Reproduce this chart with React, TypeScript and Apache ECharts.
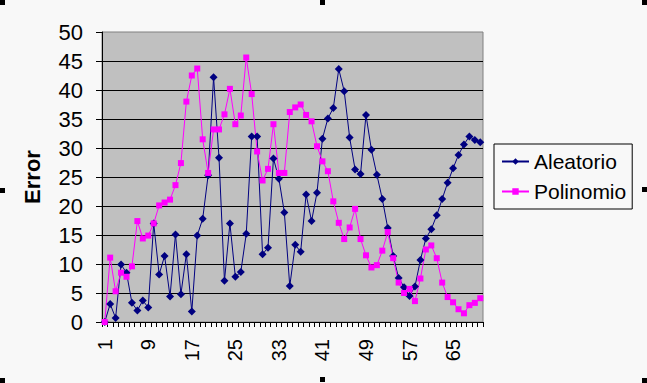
import React, { useEffect, useRef } from "react";
import * as echarts from "echarts";

const categories = [
  "1","2","3","4","5","6","7","8","9","10",
  "11","12","13","14","15","16","17","18","19","20",
  "21","22","23","24","25","26","27","28","29","30",
  "31","32","33","34","35","36","37","38","39","40",
  "41","42","43","44","45","46","47","48","49","50",
  "51","52","53","54","55","56","57","58","59","60",
  "61","62","63","64","65","66","67","68","69","70",
];

const aleatorio = [
  0, 3.1, 0.7, 9.9, 8.5, 3.3, 2.0, 3.7, 2.5, 17.0,
  8.2, 11.4, 4.4, 15.1, 4.8, 11.7, 1.8, 14.9, 17.8, 25.3,
  42.2, 28.3, 7.1, 17.0, 7.8, 8.6, 15.2, 32.0, 32.0, 11.7,
  12.8, 28.2, 24.7, 18.9, 6.2, 13.3, 12.1, 22.0, 17.4, 22.3,
  31.6, 35.1, 36.9, 43.6, 39.8, 31.8, 26.3, 25.5, 35.7, 29.7,
  25.4, 21.2, 16.2, 11.4, 7.6, 6.0, 4.5, 6.1, 10.7, 14.4,
  16.0, 18.4, 21.2, 24.0, 26.5, 28.8, 30.6, 32.0, 31.4, 31.0,
];

const polinomio = [
  0, 11.1, 5.3, 8.5, 7.8, 9.6, 17.4, 14.4, 14.9, 17.0,
  20.1, 20.6, 21.1, 23.6, 27.4, 38.0, 42.5, 43.7, 31.5, 25.7,
  33.2, 33.2, 35.8, 40.2, 34.1, 35.6, 45.6, 39.3, 29.4, 24.4,
  26.4, 34.1, 25.7, 25.7, 36.2, 37.0, 37.5, 35.7, 34.6, 30.3,
  27.7, 26.0, 20.8, 17.1, 14.3, 16.3, 19.5, 14.3, 11.5, 9.4,
  9.8, 12.3, 15.5, 11.0, 6.8, 5.0, 5.7, 3.6, 7.5, 12.5,
  13.2, 11.0, 6.8, 4.3, 3.4, 2.2, 1.5, 2.9, 3.3, 4.1,
];

const seriesNames = ["Aleatorio", "Polinomio"];
const yAxisTitle = "Error";

const FONT = "'Liberation Sans', Arial, sans-serif";

export default function App() {
  const ref = useRef<HTMLDivElement>(null);

  useEffect(() => {
    if (!ref.current) return;
    const chart = echarts.init(ref.current, null, { renderer: "svg" });
    const handles = [
      [0, 0], [320, 0], [642, 0],
      [0, 188], [642, 187],
      [0, 378], [320, 377], [642, 378],
    ];
    chart.setOption({
      animation: false,
      backgroundColor: "#F8F8F8",
      textStyle: { fontFamily: FONT },
      grid: {
        left: 102,
        right: 164,
        top: 32,
        bottom: 61,
        show: true,
        backgroundColor: "#C0C0C0",
        borderColor: "#808080",
        borderWidth: 1,
      },
      legend: {
        orient: "vertical",
        left: 494,
        top: 144,
        padding: [6, 6, 6, 7],
        itemGap: 7,
        itemWidth: 27,
        itemHeight: 8,
        borderColor: "#000",
        borderWidth: 1,
        backgroundColor: "#F8F8F8",
        textStyle: { fontSize: 21, color: "#000", fontFamily: FONT, lineHeight: 23 },
        data: seriesNames,
      },
      xAxis: {
        type: "category",
        data: categories,
        boundaryGap: true,
        axisLine: { show: true, lineStyle: { color: "#000", width: 1 } },
        axisTick: { show: true, interval: 0, length: 5, lineStyle: { color: "#000" } },
        axisLabel: {
          interval: 7,
          rotate: 90,
          margin: 17,
          fontSize: 20,
          color: "#000",
          fontFamily: FONT,
        },
        splitLine: { show: false },
      },
      yAxis: {
        type: "value",
        min: 0,
        max: 50,
        interval: 5,
        axisLine: { show: true, lineStyle: { color: "#000", width: 1 } },
        axisTick: { show: true, length: 6, lineStyle: { color: "#000" } },
        axisLabel: { fontSize: 22, color: "#000", margin: 19, fontFamily: FONT },
        splitLine: { show: true, showMaxLine: false, lineStyle: { color: "#000", width: 1 } },
      },
      graphic: [
        {
          type: "text",
          x: 32,
          y: 177,
          rotation: Math.PI / 2,
          style: {
            text: yAxisTitle,
            font: `bold 22px ${FONT}`,
            fill: "#000",
            align: "center",
            verticalAlign: "middle",
          },
        },
        ...handles.map(([x, y]) => ({
          type: "rect",
          shape: { x, y, width: 5, height: 5 },
          style: { fill: "#000" },
          z: 100,
        })),
      ],
      series: [
        {
          name: seriesNames[0],
          type: "line",
          data: aleatorio,
          symbol: "diamond",
          symbolSize: 8,
          showAllSymbol: true,
          lineStyle: { color: "#000080", width: 1 },
          itemStyle: { color: "#000080" },
        },
        {
          name: seriesNames[1],
          type: "line",
          data: polinomio,
          symbol: "rect",
          symbolSize: 6,
          showAllSymbol: true,
          lineStyle: { color: "#FF00FF", width: 1 },
          itemStyle: { color: "#FF00FF" },
        },
      ],
    });
    return () => chart.dispose();
  }, []);

  return (
    <div
      ref={ref}
      style={{ position: "fixed", left: 0, top: 0, width: 647, height: 383 }}
    />
  );
}
